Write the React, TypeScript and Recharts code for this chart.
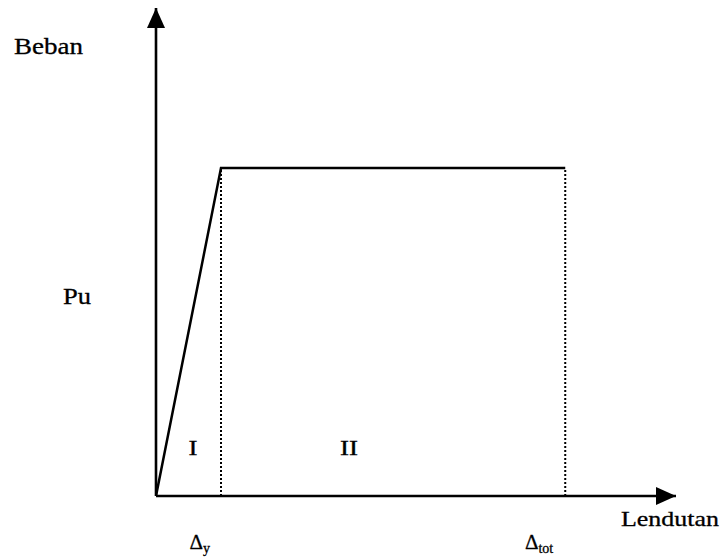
import React from "react";
import {
  LineChart,
  Line,
  XAxis,
  YAxis,
  ReferenceLine,
  ReferenceDot,
} from "recharts";

// Idealised load–deflection (Beban–Lendutan) diagram: elastic branch up to Δy, plastic plateau at Pu up to Δtot.
const deflection = [0, 12.5, 78.7];
const load = [0, 67.2, 67.2];
const DELTA_Y = deflection[1];
const DELTA_TOT = deflection[2];
const PU = load[1];
const xTicks = [DELTA_Y, DELTA_TOT];
const tickNames: Record<number, [string, string]> = {
  [DELTA_Y]: ["Δ", "y"],
  [DELTA_TOT]: ["Δ", "tot"],
};
const regionNames = ["I", "II"];

const X_MAX = 100;
const Y_MAX = 100;

const rows = deflection.map((d, i) => ({ deflection: d, load: load[i] }));

const FONT = "'Liberation Serif', 'Times New Roman', serif";

// anchor points (data units) where the region names sit
const regionAnchors = [
  { x: 7.1, y: 8.4 },
  { x: 37.1, y: 8.4 },
];

const tickShift: Record<number, number> = {
  [DELTA_Y]: -11,
  [DELTA_TOT]: -12,
};

const DeltaTick = (props: any) => {
  const { x, y, payload } = props;
  const name = tickNames[payload.value];
  if (!name) return null;
  return (
    <text
      x={x + (tickShift[payload.value] ?? -12)}
      y={y + 53}
      textAnchor="end"
      fontFamily={FONT}
      fontSize={21}
      fill="#000"
      stroke="#000"
      strokeWidth={0.3}
    >
      <tspan>{name[0]}</tspan>
      <tspan dy={4} fontSize={14}>
        {name[1]}
      </tspan>
    </text>
  );
};

const XLabel = (props: any) => {
  const vb = props.viewBox;
  return (
    <text
      x={vb.x + vb.width + 43}
      y={vb.y + 30}
      textAnchor="end"
      fontFamily={FONT}
      fontSize={22}
      fill="#000"
      stroke="#000"
      strokeWidth={0.3}
      textLength={98}
      lengthAdjust="spacingAndGlyphs"
    >
      Lendutan
    </text>
  );
};

const YLabel = (props: any) => {
  const vb = props.viewBox;
  return (
    <g fontFamily={FONT} fontSize={23} fill="#000" stroke="#000" strokeWidth={0.3}>
      <text
        x={vb.x - 141}
        y={vb.y + 46}
        textLength={69}
        lengthAdjust="spacingAndGlyphs"
      >
        Beban
      </text>
      <text
        x={vb.x - 92}
        y={vb.y + 296}
        textLength={28}
        lengthAdjust="spacingAndGlyphs"
      >
        Pu
      </text>
    </g>
  );
};

const ArrowRight = (props: any) => {
  const { cx, cy } = props;
  return (
    <path
      d={`M${cx},${cy} L${cx - 20},${cy - 9} L${cx - 20},${cy + 9} Z`}
      fill="#000"
    />
  );
};

const ArrowUp = (props: any) => {
  const { cx, cy } = props;
  return (
    <path
      d={`M${cx},${cy} L${cx - 9},${cy + 20} L${cx + 9},${cy + 20} Z`}
      fill="#000"
    />
  );
};

const regionName = (name: string) => (props: any) => {
  const { cx, cy } = props;
  return (
    <text
      x={cx}
      y={cy}
      textAnchor="middle"
      fontFamily={FONT}
      fontSize={20}
      fill="#000"
      stroke="#000"
      strokeWidth={0.3}
      textLength={name.length * 9}
      lengthAdjust="spacingAndGlyphs"
    >
      {name}
    </text>
  );
};

export default function App() {
  return (
    <div
      style={{
        position: "absolute",
        left: 0,
        top: 0,
        width: 722,
        height: 559,
        background: "#fff",
      }}
    >
      <LineChart
        width={722}
        height={559}
        data={rows}
        margin={{ top: 8, right: 46, bottom: 62, left: 155 }}
      >
        <XAxis
          dataKey="deflection"
          type="number"
          domain={[0, X_MAX]}
          ticks={xTicks}
          tick={<DeltaTick />}
          tickLine={false}
          tickSize={0}
          tickMargin={0}
          height={1}
          axisLine={{ stroke: "#000", strokeWidth: 2.6 }}
          label={<XLabel />}
          allowDataOverflow
        />
        <YAxis
          type="number"
          domain={[0, Y_MAX]}
          tick={false}
          tickLine={false}
          width={1}
          axisLine={{ stroke: "#000", strokeWidth: 2.6 }}
          label={<YLabel />}
          allowDataOverflow
        />
        <ReferenceLine
          segment={[
            { x: DELTA_Y, y: 0 },
            { x: DELTA_Y, y: PU },
          ]}
          stroke="#000"
          strokeWidth={2}
          strokeDasharray="2 2"
        />
        <ReferenceLine
          segment={[
            { x: DELTA_TOT, y: 0 },
            { x: DELTA_TOT, y: PU },
          ]}
          stroke="#000"
          strokeWidth={2}
          strokeDasharray="2 2"
        />
        <Line
          type="linear"
          dataKey="load"
          stroke="#000"
          strokeWidth={2.5}
          dot={false}
          activeDot={false}
          isAnimationActive={false}
        />
        <ReferenceDot
          x={X_MAX}
          y={0}
          ifOverflow="visible"
          shape={<ArrowRight />}
        />
        <ReferenceDot
          x={0}
          y={Y_MAX}
          ifOverflow="visible"
          shape={<ArrowUp />}
        />
        {regionNames.map((n, i) => (
          <ReferenceDot
            key={n}
            x={regionAnchors[i].x}
            y={regionAnchors[i].y}
            ifOverflow="visible"
            shape={regionName(n)}
          />
        ))}
      </LineChart>
    </div>
  );
}
